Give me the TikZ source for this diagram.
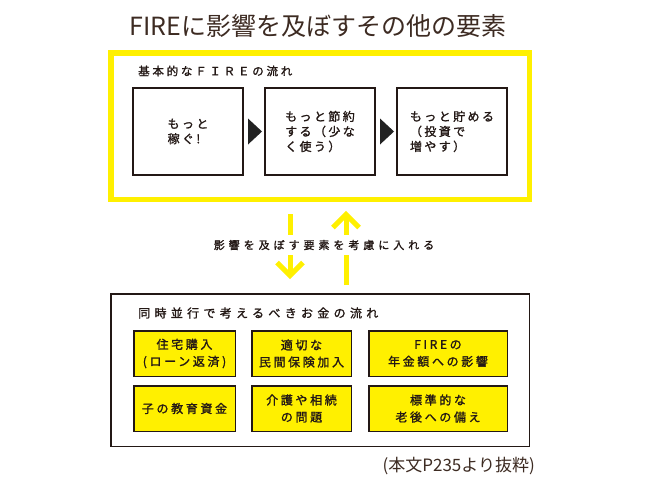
\documentclass[tikz,border=0pt]{standalone}
\usepackage{fontspec}
\usetikzlibrary{calc}
\newfontfamily\jp{Noto Sans CJK JP}
\newfontfamily\jpm[FakeBold=1.4]{Noto Sans CJK JP}
\definecolor{fy}{HTML}{FFF000}
\definecolor{ink}{HTML}{231815}
\definecolor{brownink}{HTML}{3D2B22}
\definecolor{tridark}{HTML}{222222}
\tikzset{
  titletxt/.style={font={\jp\fontsize{25}{30}\selectfont}, text=brownink},
  headtxt/.style={font={\jpm\fontsize{11.5}{15}\selectfont\addfontfeatures{LetterSpace=24}}, text=ink, anchor=west, inner sep=0pt},
  flowbox/.style={draw=ink, line width=2pt, fill=white, minimum width=110pt, minimum height=87pt, inner sep=0pt,
    align=left, font={\jpm\fontsize{12}{15}\selectfont\addfontfeatures{LetterSpace=20}}, text=ink},
  moneybox/.style={draw=ink, line width=1.5pt, fill=fy, minimum height=45.5pt, inner sep=0pt,
    align=center, font={\jpm\fontsize{12}{17}\selectfont\addfontfeatures{LetterSpace=22}}, text=ink},
  frameY/.style={draw=fy, line width=5.5pt, minimum width=418.5pt, minimum height=146.5pt, inner sep=0pt},
  frameK/.style={draw=ink, line width=1.5pt, minimum width=418.5pt, minimum height=152.5pt, inner sep=0pt},
  arrowline/.style={draw=fy, line width=5pt, miter limit=10},
  tri/.style={fill=tridark},
  midtxt/.style={font={\jpm\fontsize{11}{15}\selectfont\addfontfeatures{LetterSpace=36}}, text=ink, fill=white, inner xsep=2pt, inner ysep=5pt},
  notetxt/.style={font={\jp\fontsize{17}{20}\selectfont}, text=brownink, anchor=east, inner sep=0pt}
}
\begin{document}
\begin{tikzpicture}[x=1pt,y=-1pt]
\useasboundingbox (0,0) rectangle (650,480);
\fill[white] (0,0) rectangle (650,480);

% title
\node[titletxt] (title) at (318,26) {FIREに影響を及ぼすその他の要素};

% upper frame
\node[frameY] (basic) at (320,126) {};
\node[headtxt] (basichead) at (138,71) {基本的なＦＩＲＥの流れ};
\node[flowbox] (b1) at (188,131.5) {もっと\\稼ぐ!};
\node[flowbox] (b2) at (320,131.5) {もっと節約\\する（少な\\く使う）};
\node[flowbox] (b3) at (452,131.5) {もっと貯める\\（投資で\\増やす）};
\fill[tri] ($(b1.east)+(4,-13)$) -- ($(b1.east)+(18,0)$) -- ($(b1.east)+(4,13)$) -- cycle;
\fill[tri] ($(b2.east)+(4,-13)$) -- ($(b2.east)+(18,0)$) -- ($(b2.east)+(4,13)$) -- cycle;

% arrows
\coordinate (dtop) at (290,214);
\coordinate (dtip) at (290,275.5);
\coordinate (ubot) at (346,285);
\coordinate (utip) at (346,214.5);
\draw[arrowline] (dtop) -- (dtip);
\draw[arrowline] ($(dtip)+(-13,-13)$) -- (dtip) -- ($(dtip)+(13,-13)$);
\draw[arrowline] (ubot) -- (utip);
\draw[arrowline] ($(utip)+(-13,13)$) -- (utip) -- ($(utip)+(13,13)$);
\node[midtxt] (mid) at (324,245) {影響を及ぼす要素を考慮に入れる};

% lower frame
\node[frameK] (money) at (320,370) {};
\node[headtxt, font={\jpm\fontsize{12}{15}\selectfont\addfontfeatures{LetterSpace=36}}] (moneyhead) at (138,313) {同時並行で考えるべきお金の流れ};
\node[moneybox, minimum width=101.5pt] (m1) at (184.5,353.5) {住宅購入\\(ローン返済)};
\node[moneybox, minimum width=99.5pt] (m2) at (301.5,353.5) {適切な\\民間保険加入};
\node[moneybox, minimum width=138.5pt] (m3) at (438,353.5) {FIREの\\年金額への影響};
\node[moneybox, minimum width=101.5pt] (m4) at (184.5,408.5) {子の教育資金};
\node[moneybox, minimum width=99.5pt] (m5) at (301.5,408.5) {介護や相続\\の問題};
\node[moneybox, minimum width=138.5pt] (m6) at (438,408.5) {標準的な\\老後への備え};

% note
\node[notetxt] (note) at (535,466) {(本文P235より抜粋)};
\end{tikzpicture}
\end{document}
